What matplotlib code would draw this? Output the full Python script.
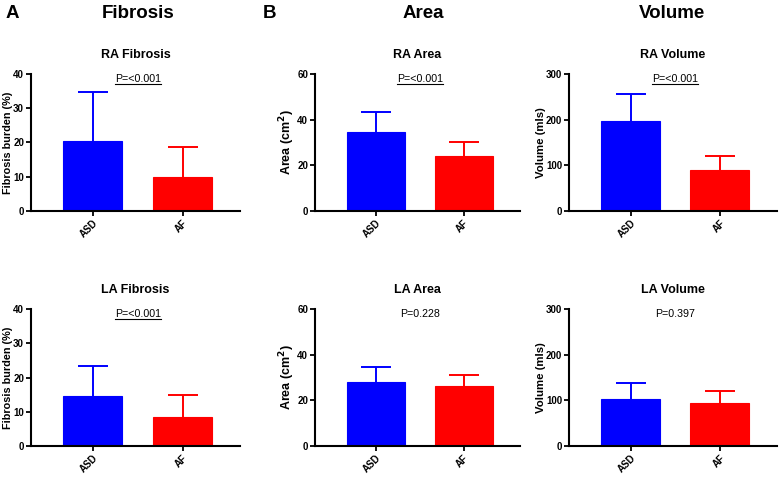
import numpy as np
import matplotlib
matplotlib.use("Agg")
from matplotlib import pyplot as plt
from matplotlib.lines import Line2D

plt.rcParams['font.family'] = ['Liberation Sans', 'DejaVu Sans']

groups = ['ASD', 'AF']
colors = ['#0000FF', '#FF0000']

titles = ['RA Fibrosis', 'RA Area', 'RA Volume', 'LA Fibrosis', 'LA Area', 'LA Volume']
ylabels = ['Fibrosis burden (%)', 'Area (cm$^\\mathbf{2}$)', 'Volume (mls)'] * 2
pvals = ['P=<0.001', 'P=<0.001', 'P=<0.001', 'P=<0.001', 'P=0.228', 'P=0.397']
underline = [True, True, True, True, False, False]

means = [[20.5, 10.0], [34.5, 24.2], [197, 90],
         [14.7, 8.6], [28.0, 26.1], [102, 94]]
sds = [[14.2, 8.8], [9.0, 5.8], [60, 31],
       [8.6, 6.2], [6.7, 5.1], [35, 26]]
yticks = [[0, 10, 20, 30, 40], [0, 20, 40, 60], [0, 100, 200, 300]] * 2

headers = ['Fibrosis', 'Area', 'Volume']
panel_letters = ['A', 'B']

fig = plt.figure(figsize=(7.8, 4.78), dpi=100)

lefts = [31/780, 315/780, 569/780]
rights = [240/780, 520/780, 777/780]
bottoms = [(478-211)/478, (478-446)/478]
h = 137/478
ylab_size = [7.8, 9, 8.2]

axes = []
for i in range(6):
    r, c = divmod(i, 3)
    ax = fig.add_axes([lefts[c], bottoms[r], rights[c]-lefts[c], h])
    axes.append(ax)
    x = np.arange(len(groups))
    ax.bar(x, means[i], width=0.66, color=colors, edgecolor=colors, linewidth=0.8, zorder=2)
    for xi, m, s, col in zip(x, means[i], sds[i], colors):
        _, caps, _ = ax.errorbar(xi, m, yerr=[[0], [s]], color=col, elinewidth=1.4,
                                 capsize=10.5, capthick=1.4, zorder=1)
        caps[0].set_visible(False)
    ax.set_xlim(-0.69, 1.64)
    ax.set_ylim(0, yticks[i][-1])
    ax.set_yticks(yticks[i])
    ax.set_xticks(x)
    ax.set_xticklabels(groups, rotation=45, ha='right', rotation_mode='anchor',
                       fontsize=7, fontweight='bold')
    for lab in ax.get_yticklabels():
        lab.set_fontsize(7)
        lab.set_fontweight('bold')
    ax.spines['top'].set_visible(False)
    ax.spines['right'].set_visible(False)
    ax.spines['left'].set_linewidth(1.5)
    ax.spines['bottom'].set_linewidth(1.5)
    ax.tick_params(width=1.3, length=3.5, pad=1.5)
    ax.set_ylabel(ylabels[i], fontsize=ylab_size[c], fontweight='bold', labelpad=0)
    ax.set_title(titles[i], fontsize=9, fontweight='bold', pad=11.5)
    ax.text(0.5, yticks[i][-1]*0.965, pvals[i], ha='center', va='center', fontsize=7.7)

fig.canvas.draw()
renderer = fig.canvas.get_renderer()
for i, ax in enumerate(axes):
    if not underline[i]:
        continue
    t = ax.texts[0]
    bb = t.get_window_extent(renderer)
    inv = fig.transFigure.inverted()
    (x0, y0), (x1, y1) = inv.transform([(bb.x0, bb.y0 - 0.5), (bb.x1, bb.y0 - 0.5)])
    fig.add_artist(Line2D([x0, x1], [y0, y1], transform=fig.transFigure, color='black', lw=0.8))

header_x = [138/780, 423/780, 672/780]
for hx, hd in zip(header_x, headers):
    fig.text(hx, 1 - 13/478, hd, ha='center', va='center', fontsize=13.5, fontweight='bold')
fig.text(12/780, 1 - 13/478, panel_letters[0], ha='center', va='center', fontsize=13.5, fontweight='bold')
fig.text(270/780, 1 - 13/478, panel_letters[1], ha='center', va='center', fontsize=13.5, fontweight='bold')

fig.savefig('out.png', dpi=100)
